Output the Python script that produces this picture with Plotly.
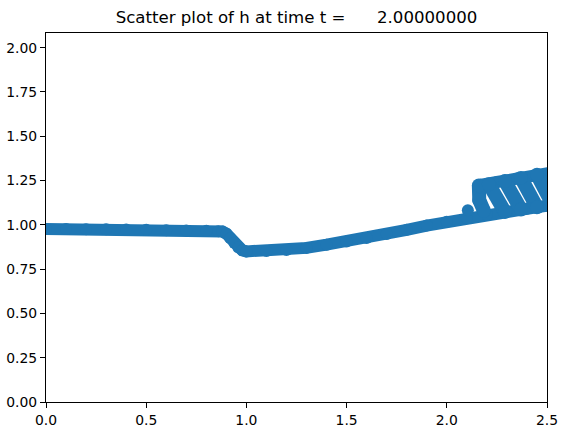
import plotly.graph_objects as go

# values
x_main = [0.0, 0.1, 0.2, 0.3, 0.4, 0.5, 0.6, 0.7, 0.8, 0.86, 0.88, 0.9, 0.92, 0.94,
          0.96, 0.98, 1.0, 1.1, 1.2, 1.3, 1.4, 1.5, 1.6, 1.7, 1.8, 1.9, 2.0, 2.1,
          2.2, 2.3, 2.4, 2.5]
h_main = [0.976, 0.976, 0.975, 0.975, 0.974, 0.972, 0.970, 0.968, 0.966, 0.964, 0.962,
          0.950, 0.925, 0.897, 0.872, 0.856, 0.850, 0.852, 0.858, 0.870, 0.888, 0.906,
          0.926, 0.948, 0.972, 0.996, 1.018, 1.038, 1.057, 1.075, 1.091, 1.108]

# upper branch of the shock region
x_upper = [2.162, 2.17, 2.25, 2.35, 2.45, 2.52]
h_upper = [1.222, 1.226, 1.242, 1.262, 1.281, 1.294]

# loops joining upper and lower branch (None splits them)
x_loops = [2.16, 2.162, 2.185, None, 2.21, 2.29, None, 2.29, 2.37, None,
           2.37, 2.45, None, 2.45, 2.53]
h_loops = [1.222, 1.14, 1.08, None, 1.229, 1.073, None, 1.247, 1.087, None,
           1.265, 1.099, None, 1.283, 1.111]

# lone point just before the loops
x_lone = [2.105]
h_lone = [1.082]

blue = '#1f77b4'
fnt = 'DejaVu Sans, Verdana, sans-serif'

fig = go.Figure()
fig.add_trace(go.Scatter(x=x_main, y=h_main, mode='lines+markers',
                         line=dict(color=blue, width=12),
                         marker=dict(color=blue, size=12)))
fig.add_trace(go.Scatter(x=x_upper, y=h_upper, mode='lines+markers',
                         line=dict(color=blue, width=12),
                         marker=dict(color=blue, size=12)))
fig.add_trace(go.Scatter(x=x_loops, y=h_loops, mode='lines+markers',
                         line=dict(color=blue, width=14),
                         marker=dict(color=blue, size=14)))
fig.add_trace(go.Scatter(x=x_lone, y=h_lone, mode='markers',
                         marker=dict(color=blue, size=12)))

axis_style = dict(showline=True, linecolor='black', linewidth=1, mirror=True,
                  ticks='outside', ticklen=5, tickwidth=1, tickcolor='black',
                  showgrid=False, zeroline=False, automargin=False,
                  tickfont=dict(family=fnt, size=13.9, color='black'))

fig.update_layout(
    width=567, height=435,
    margin=dict(l=46, r=20, t=33, b=33, autoexpand=False),
    paper_bgcolor='white', plot_bgcolor='white',
    showlegend=False,
    title=dict(text='Scatter plot of h at time t =\u00a0\u00a0\u00a0\u00a0\u00a0\u00a02.00000000',
               x=(46 + 547) / 2 / 567, xanchor='center',
               y=1 - 17 / 435, yanchor='middle',
               font=dict(family=fnt, size=16.6, color='black')),
    xaxis=dict(range=[0, 2.5], tickvals=[0, 0.5, 1.0, 1.5, 2.0, 2.5],
               tickformat='.1f', **axis_style),
    yaxis=dict(range=[0, 2.083], tickvals=[0, 0.25, 0.5, 0.75, 1.0, 1.25, 1.5, 1.75, 2.0],
               tickformat='.2f', **axis_style),
)

fig.write_html("out.html", config={'displayModeBar': False},
               post_script="document.body.style.margin='0';")
